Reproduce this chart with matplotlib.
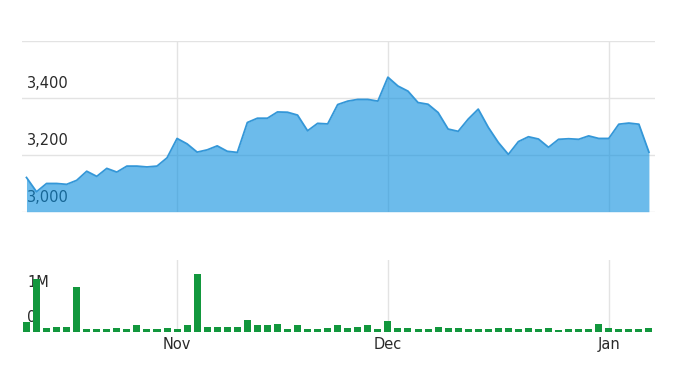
import matplotlib.pyplot as plt
from matplotlib.transforms import blended_transform_factory

# daily closes and volumes (trading days, index 0..62)
close = [3120, 3070, 3099, 3099, 3096, 3110, 3142, 3124, 3152, 3139,
         3160, 3160, 3157, 3160, 3189, 3257, 3238, 3209, 3217, 3231,
         3212, 3208, 3313, 3328, 3328, 3350, 3349, 3339, 3284, 3310,
         3308, 3376, 3388, 3394, 3394, 3388, 3472, 3441, 3423, 3383,
         3377, 3348, 3290, 3282, 3325, 3360, 3296, 3243, 3201, 3246,
         3263, 3255, 3226, 3254, 3256, 3254, 3266, 3257, 3257, 3307,
         3311, 3307, 3209]
volume = [0.27, 1.50, 0.11, 0.14, 0.14, 1.27, 0.07, 0.07, 0.07, 0.10,
          0.08, 0.18, 0.07, 0.07, 0.10, 0.07, 0.19, 1.65, 0.14, 0.14,
          0.13, 0.14, 0.33, 0.19, 0.19, 0.22, 0.07, 0.19, 0.07, 0.07,
          0.10, 0.18, 0.10, 0.14, 0.18, 0.07, 0.30, 0.11, 0.10, 0.07,
          0.07, 0.14, 0.11, 0.11, 0.08, 0.08, 0.08, 0.11, 0.11, 0.08,
          0.11, 0.08, 0.11, 0.04, 0.08, 0.08, 0.08, 0.22, 0.11, 0.08,
          0.08, 0.08, 0.11]  # millions
month_pos = [15, 36, 58]
month_labels = ['Nov', 'Dec', 'Jan']
price_ticks = [3000, 3200, 3400, 3600]
price_labels = ['3,000', '3,200', '3,400']
vol_ticks = [0, 1]
vol_labels = ['0', '1M']

x = list(range(len(close)))
grid_c = '#e3e3e3'
text_c = '#2a2a2a'

fig = plt.figure(figsize=(6.78, 3.79), dpi=100)
ax = fig.add_axes([0.0324, 0.4414, 0.9336, 0.4512])
ax2 = fig.add_axes([0.0324, 0.1248, 0.9336, 0.189])

for a in (ax, ax2):
    for s in a.spines.values():
        s.set_visible(False)
    a.set_xlim(-0.45, 62.6)
    a.set_xticks(month_pos)
    a.tick_params(length=0, labelleft=False)
    a.grid(axis='x', color=grid_c, lw=1)
    a.set_axisbelow(True)

# price panel
ax.set_ylim(3000, 3600)
ax.set_yticks(price_ticks)
ax.grid(axis='y', color=grid_c, lw=1)
ax.tick_params(labelbottom=False)
trans = blended_transform_factory(ax.transAxes, ax.transData)
for v, lab in zip(price_ticks, price_labels):
    ax.annotate(lab, (0.008, v), xycoords=trans, xytext=(0, 10),
                textcoords='offset points', va='center', ha='left',
                fontsize=10.5, color=text_c, zorder=1)
# semi-transparent fill, labels and gridlines show through it
ax.fill_between(x, close, 3000, color='#0a8fdf', alpha=0.6, lw=0, zorder=2)
ax.plot(x, close, color='#3497d8', lw=1.3, zorder=3)

# volume panel
ax2.set_ylim(0, 2.05)
ax2.set_yticks([])
trans2 = blended_transform_factory(ax2.transAxes, ax2.transData)
for v, lab in zip(vol_ticks, vol_labels):
    ax2.annotate(lab, (0.008, v), xycoords=trans2, xytext=(0, 10),
                 textcoords='offset points', va='center', ha='left',
                 fontsize=10.5, color=text_c, zorder=1)
ax2.bar(x, volume, width=0.7, color='#12973d', zorder=2)
ax2.set_xticklabels(month_labels, fontsize=10.5, color=text_c)
ax2.tick_params(axis='x', pad=4)

fig.savefig('out.png', dpi=100)
